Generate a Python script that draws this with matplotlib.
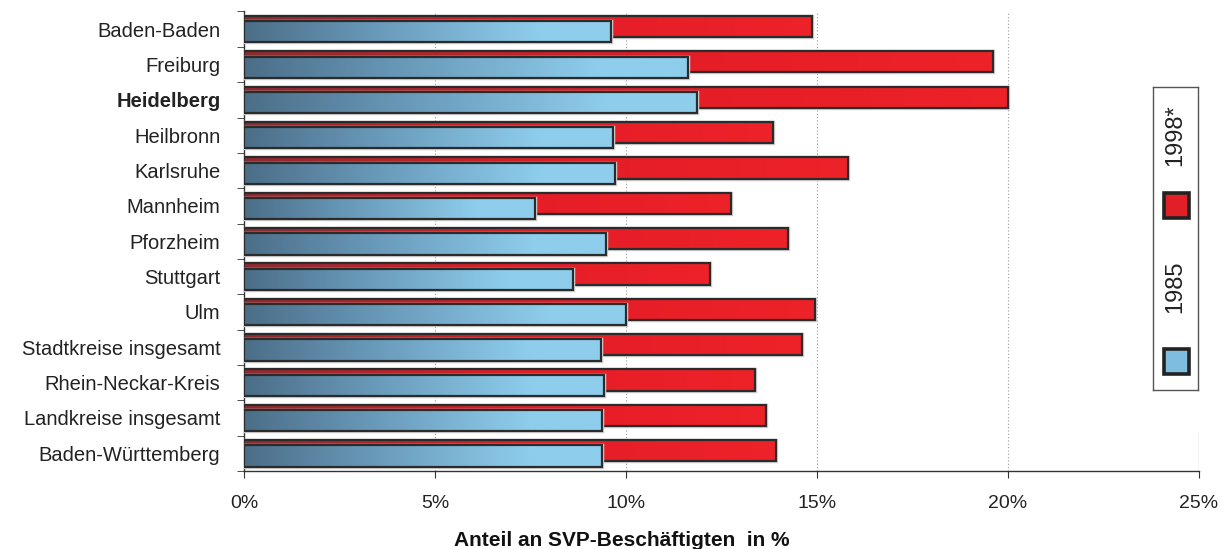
import matplotlib.pyplot as plt
import numpy as np
from matplotlib.colors import LinearSegmentedColormap

plt.rcParams['font.family'] = ['Liberation Sans', 'DejaVu Sans']

# Daten (Anteil an SVP-Beschäftigten in %)
kreise = ['Baden-Baden', 'Freiburg', 'Heidelberg', 'Heilbronn', 'Karlsruhe',
          'Mannheim', 'Pforzheim', 'Stuttgart', 'Ulm', 'Stadtkreise insgesamt',
          'Rhein-Neckar-Kreis', 'Landkreise insgesamt', 'Baden-Württemberg']
werte_1985 = [9.61, 11.62, 11.87, 9.66, 9.71, 7.62, 9.48, 8.61, 10.0, 9.34, 9.42, 9.37, 9.37]
werte_1998 = [14.86, 19.61, 20.0, 13.85, 15.81, 12.75, 14.24, 12.2, 14.94, 14.6, 13.38, 13.67, 13.93]
x_ticks = [0, 5, 10, 15, 20, 25]

cmap_blau = LinearSegmentedColormap.from_list(
    'blau', [(0, '#4b6e88'), (0.35, '#6898b8'), (0.8, '#8ecdec'), (1, '#8ecdec')])
cmap_rot = LinearSegmentedColormap.from_list(
    'rot', [(0, '#8e2b30'), (0.55, '#e41d27'), (1, '#ee2229')])

fig = plt.figure(figsize=(12.32, 5.49), dpi=100)
ax = fig.add_axes([244 / 1232, 1 - 471 / 549, 955 / 1232, 459.5 / 549])

hoehe = 0.6
verschiebung = 0.075
grad = np.linspace(0, 1, 256).reshape(1, -1)


def balken_mit_verlauf(wert, y, cmap, z):
    # Rechteck zeichnen und Farbverlauf hineinclippen
    ax.barh(y, wert, height=hoehe, left=0.0, color='#d4d4d4', edgecolor='#d4d4d4',
            linewidth=2.5, zorder=z)
    rect = ax.barh(y, wert, height=hoehe, color='none', edgecolor='#2b2b2b',
                   linewidth=1.6, zorder=z + 0.2)[0]
    img = ax.imshow(grad, cmap=cmap, aspect='auto', zorder=z + 0.1,
                    extent=[0, wert, y + hoehe / 2, y - hoehe / 2])
    img.set_clip_path(rect)


pos = np.arange(len(kreise))
for i in pos:
    balken_mit_verlauf(werte_1998[i], i - verschiebung, cmap_rot, 3)
    balken_mit_verlauf(werte_1985[i], i + verschiebung, cmap_blau, 4)

ax.set_xlim(0, 25)
ax.set_ylim(len(kreise) - 0.5, -0.5)

# Gitterlinien
for xt in x_ticks[1:-1]:
    ax.axvline(xt, color='#9a9a9a', linestyle=(0, (1, 2)), linewidth=0.8, zorder=1)
ax.axvline(25, ymin=0, ymax=0.085, color='#c8c8c8', linewidth=1.0, zorder=1)

# Achsen
for s in ['top', 'right']:
    ax.spines[s].set_visible(False)
ax.spines['left'].set_color('#333333')
ax.spines['bottom'].set_color('#333333')
ax.spines['left'].set_linewidth(1.0)
ax.spines['bottom'].set_linewidth(1.0)

ax.set_xticks(x_ticks)
ax.set_xticklabels([f'{t}%' for t in x_ticks], fontsize=14, color='#222222')
ax.tick_params(axis='x', length=5, color='#333333', pad=12)

ax.set_yticks(pos)
ax.set_yticklabels(kreise, fontsize=14.5, color='#222222')
ax.set_yticks(np.arange(len(kreise) + 1) - 0.5, minor=True)
ax.tick_params(axis='y', which='major', length=0, pad=17)
ax.tick_params(axis='y', which='minor', length=5, color='#333333')
for lbl in ax.get_yticklabels():
    if lbl.get_text() == 'Heidelberg':
        lbl.set_fontweight('bold')

fig.text(622 / 1232, 1 - 540 / 549, 'Anteil an SVP-Beschäftigten  in %',
         ha='center', va='center', fontsize=15, fontweight='bold', color='#111111')

# Legende (vertikal)
lax = fig.add_axes([1153 / 1232, 1 - 390 / 549, 45 / 1232, 303 / 549])
lax.set_xlim(0, 1)
lax.set_ylim(0, 1)
lax.set_xticks([])
lax.set_yticks([])
for s in lax.spines.values():
    s.set_color('#555555')
    s.set_linewidth(1.0)
lax.plot(0.5, 0.095, marker='s', markersize=18, markerfacecolor='#7fbde0',
         markeredgecolor='#222222', markeredgewidth=2.6)
lax.text(0.5, 0.34, '1985', rotation=90, ha='center', va='center', fontsize=17, color='#222222')
lax.plot(0.5, 0.61, marker='s', markersize=18, markerfacecolor='#e01f27',
         markeredgecolor='#222222', markeredgewidth=2.6)
lax.text(0.5, 0.84, '1998*', rotation=90, ha='center', va='center', fontsize=17, color='#222222')

fig.savefig('out.png', dpi=100)
